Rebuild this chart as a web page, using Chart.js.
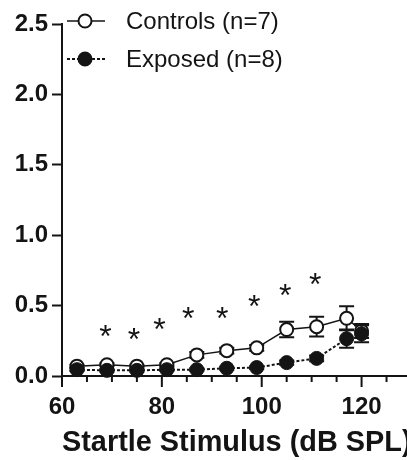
<!DOCTYPE html>
<html>
<head>
<meta charset="utf-8">
<script src="https://cdn.jsdelivr.net/npm/chart.js@4.4.1/dist/chart.umd.min.js"></script>
<style>
    html, body { margin: 0; padding: 0; background: #fff; overflow: hidden; }
    #wrap { width: 420px; height: 460px; }
</style>
</head>
<body>
<div id="wrap"><canvas id="startleChart" width="420" height="460"></canvas></div>
<script>
// stimulus levels (dB SPL)
const levels = [63, 69, 75, 81, 87, 93, 99, 105, 111, 117, 120];

// controls, mean and SEM
const controlsMean = [0.07, 0.08, 0.07, 0.08, 0.15, 0.18, 0.20, 0.33, 0.35, 0.41, 0.32];
const controlsSem = [0.01, 0.01, 0.01, 0.01, 0.02, 0.02, 0.02, 0.055, 0.07, 0.085, 0.05];

// exposed, mean and SEM
const exposedMean = [0.045, 0.04, 0.04, 0.045, 0.045, 0.055, 0.06, 0.095, 0.125, 0.265, 0.30];
const exposedSem = [0.01, 0.01, 0.01, 0.01, 0.01, 0.01, 0.01, 0.015, 0.02, 0.065, 0.06];

// significance marks
const starLevels = [68.7, 74.4, 79.5, 85.3, 92.1, 98.5, 104.7, 110.7];
const starHeights = [0.32, 0.30, 0.37, 0.45, 0.45, 0.53, 0.61, 0.69];

const xTicks = [60, 80, 100, 120];
const yTicks = [0, 0.5, 1.0, 1.5, 2.0, 2.5];
const seriesLabels = ['Controls (n=7)', 'Exposed (n=8)'];

const ink = '#141414';
const sansFont = '"Liberation Sans", Arial, sans-serif';

function toPoints(xs, ys) {
    return xs.map((x, i) => ({ x: x, y: ys[i] }));
}

// error bars go in just before their own dataset, so the markers cover them
const errorBars = {
    id: 'errorBars',
    beforeDatasetDraw(chart, args) {
        const sems = args.index === 0 ? controlsSem : exposedSem;
        const means = args.index === 0 ? controlsMean : exposedMean;
        const xs = chart.scales.x, ys = chart.scales.y;
        const ctx = chart.ctx;
        ctx.save();
        ctx.strokeStyle = ink;
        ctx.lineWidth = 2;
        levels.forEach((lv, i) => {
            const px = xs.getPixelForValue(lv);
            const top = ys.getPixelForValue(means[i] + sems[i]);
            const bot = ys.getPixelForValue(means[i] - sems[i]);
            ctx.beginPath();
            ctx.moveTo(px, top); ctx.lineTo(px, bot);
            ctx.moveTo(px - 7.5, top); ctx.lineTo(px + 7.5, top);
            ctx.moveTo(px - 7.5, bot); ctx.lineTo(px + 7.5, bot);
            ctx.stroke();
        });
        ctx.restore();
    }
};

// x axis ticks: long every 20 dB, short every 5 dB
const xTickMarks = {
    id: 'xTickMarks',
    afterDraw(chart) {
        const xs = chart.scales.x;
        const ctx = chart.ctx;
        const base = chart.chartArea.bottom;
        ctx.save();
        ctx.strokeStyle = ink;
        ctx.lineWidth = 2;
        for (let v = xs.min; v <= xs.max; v += 5) {
            const px = xs.getPixelForValue(v);
            ctx.beginPath();
            ctx.moveTo(px, base);
            ctx.lineTo(px, base + (v % 20 === 0 ? 11 : 6));
            ctx.stroke();
        }
        ctx.restore();
    }
};

// asterisks and the legend in the upper left corner
const overlay = {
    id: 'overlay',
    afterDraw(chart) {
        const xs = chart.scales.x, ys = chart.scales.y;
        const ctx = chart.ctx;
        ctx.save();
        ctx.fillStyle = ink;
        ctx.font = '32px ' + sansFont;
        ctx.textAlign = 'center';
        ctx.textBaseline = 'alphabetic';
        const m = ctx.measureText('*');
        const mid = (m.actualBoundingBoxAscent - m.actualBoundingBoxDescent) / 2;
        starLevels.forEach((lv, i) => {
            ctx.fillText('*', xs.getPixelForValue(lv), ys.getPixelForValue(starHeights[i]) + mid);
        });

        // legend rows
        const rows = [{ y: 21, dash: [], fill: '#fff' }, { y: 59, dash: [3, 2], fill: ink }];
        rows.forEach((r, i) => {
            ctx.strokeStyle = ink;
            ctx.lineWidth = i === 0 ? 1.5 : 2;
            ctx.setLineDash(r.dash);
            ctx.beginPath();
            ctx.moveTo(67, r.y); ctx.lineTo(105, r.y);
            ctx.stroke();
            ctx.setLineDash([]);
            ctx.beginPath();
            ctx.arc(85, r.y, 6.5, 0, Math.PI * 2);
            ctx.fillStyle = r.fill;
            ctx.fill();
            ctx.lineWidth = 2;
            ctx.stroke();
            ctx.fillStyle = ink;
            ctx.font = '24px ' + sansFont;
            ctx.textAlign = 'left';
            ctx.textBaseline = 'middle';
            ctx.fillText(seriesLabels[i], 126, r.y + 1);
        });
        ctx.restore();
    }
};

const ctx = document.getElementById('startleChart').getContext('2d');
new Chart(ctx, {
    type: 'line',
    data: {
        datasets: [{
            label: seriesLabels[0],
            data: toPoints(levels, controlsMean),
            borderColor: ink,
            borderWidth: 1.5,
            pointRadius: 6.5,
            pointBorderWidth: 2,
            pointBackgroundColor: '#fff',
            pointBorderColor: ink,
            order: 2,
            clip: false
        }, {
            label: seriesLabels[1],
            data: toPoints(levels, exposedMean),
            borderColor: ink,
            borderWidth: 2,
            borderDash: [3, 2],
            pointRadius: 7,
            pointBorderWidth: 1,
            pointBackgroundColor: ink,
            pointBorderColor: ink,
            order: 1,
            clip: false
        }]
    },
    options: {
        responsive: false,
        animation: false,
        layout: { padding: { left: 0, right: 8, top: 24, bottom: 0 } },
        plugins: {
            legend: { display: false },
            tooltip: { enabled: false }
        },
        scales: {
            x: {
                type: 'linear',
                min: 60,
                max: 130,
                afterFit: scale => { scale.height = 84; },
                afterBuildTicks: scale => { scale.ticks = xTicks.map(v => ({ value: v })); },
                border: { color: ink, width: 2 },
                grid: { display: false, drawTicks: false },
                ticks: {
                    autoSkip: false,
                    maxRotation: 0,
                    padding: 17,
                    color: ink,
                    font: { family: sansFont, size: 24, weight: 'bold' }
                },
                title: {
                    display: true,
                    text: 'Startle Stimulus (dB SPL)',
                    color: ink,
                    padding: 0,
                    font: { family: sansFont, size: 29, weight: 'bold' }
                }
            },
            y: {
                min: 0,
                max: 2.5,
                afterFit: scale => { scale.width = 62; },
                afterBuildTicks: scale => { scale.ticks = yTicks.map(v => ({ value: v })); },
                border: { color: ink, width: 2 },
                grid: { drawOnChartArea: false, tickLength: 10, tickWidth: 2, tickColor: ink },
                ticks: {
                    padding: 4,
                    color: ink,
                    font: { family: sansFont, size: 24, weight: 'bold' },
                    callback: v => v.toFixed(1)
                }
            }
        }
    },
    plugins: [errorBars, xTickMarks, overlay]
});
</script>
</body>
</html>
